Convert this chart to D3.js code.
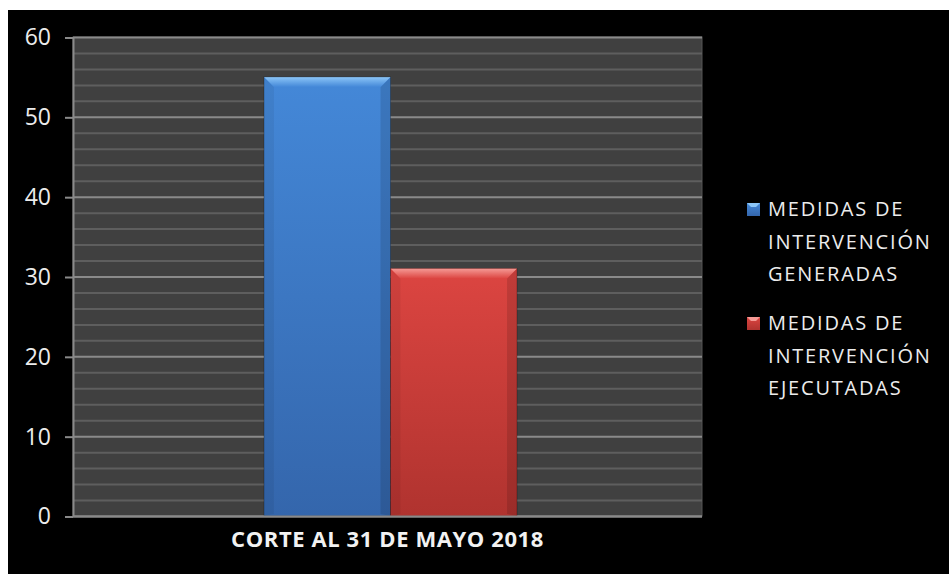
<!DOCTYPE html>
<html>
<head>
<meta charset="utf-8">
<script src="https://cdn.jsdelivr.net/npm/d3@7"></script>
<style>
  html, body { margin: 0; padding: 0; background: #fff; }
  svg { display: block; }
</style>
</head>
<body>
<svg id="chart" width="949" height="574"></svg>
<script>
// ---- data ----
const categories = ["CORTE AL 31 DE MAYO 2018"];
const seriesNames = [
  ["MEDIDAS DE", "INTERVENCIÓN", "GENERADAS"],
  ["MEDIDAS DE", "INTERVENCIÓN", "EJECUTADAS"]
];
const generadas = [55];
const ejecutadas = [31];
const yTicks = [0, 10, 20, 30, 40, 50, 60];
const yMinorTicks = d3.range(0, 61, 2);

const series = [
  { key: "gen", values: generadas, light: "#8cc6f8", top: "#4488d8", bottom: "#3466ac" },
  { key: "eje", values: ejecutadas, light: "#f59a95", top: "#dc4541", bottom: "#b0332f" }
];

const svg = d3.select("#chart");
const W = 949, H = 574;

// page background: white margins, black chart area
svg.append("rect").attr("x", 0).attr("y", 0).attr("width", W).attr("height", H).attr("fill", "#fff");
svg.append("rect").attr("x", 8).attr("y", 10).attr("width", W - 8).attr("height", H - 10).attr("fill", "#000");

const plot = { left: 73, right: 702, top: 37, bottom: 516 };

const y = d3.scaleLinear().domain([0, 60]).range([plot.bottom, plot.top]);
const x0 = d3.scaleBand().domain(categories).range([plot.left, plot.right])
  .paddingInner(0).paddingOuter(0.743).align(0.508);
const x1 = d3.scaleBand().domain(series.map(s => s.key)).range([0, x0.bandwidth()]).padding(0);

// plot background
svg.append("rect")
  .attr("x", plot.left).attr("y", plot.top)
  .attr("width", plot.right - plot.left).attr("height", plot.bottom - plot.top)
  .attr("fill", "#404040")
  .attr("stroke", "#555").attr("stroke-width", 1);

// minor gridlines
svg.append("g").selectAll("line").data(yMinorTicks.filter(v => v % 10 !== 0)).join("line")
  .attr("x1", plot.left).attr("x2", plot.right)
  .attr("y1", d => y(d) + 0.5).attr("y2", d => y(d) + 0.5)
  .attr("stroke", "#5e5e5e").attr("stroke-width", 2);

// major gridlines
svg.append("g").selectAll("line").data(yTicks).join("line")
  .attr("x1", plot.left).attr("x2", plot.right)
  .attr("y1", d => y(d) + 0.5).attr("y2", d => y(d) + 0.5)
  .attr("stroke", "#8a8a8a").attr("stroke-width", 2);

// defs: gradients
const defs = svg.append("defs");
series.forEach(s => {
  const g = defs.append("linearGradient").attr("id", "grad-" + s.key)
    .attr("x1", 0).attr("y1", 0).attr("x2", 0).attr("y2", 1);
  g.append("stop").attr("offset", "0%").attr("stop-color", s.top);
  g.append("stop").attr("offset", "100%").attr("stop-color", s.bottom);
  const t = defs.append("linearGradient").attr("id", "top-" + s.key)
    .attr("x1", 0).attr("y1", 0).attr("x2", 0).attr("y2", 1);
  t.append("stop").attr("offset", "0%").attr("stop-color", s.light);
  t.append("stop").attr("offset", "100%").attr("stop-color", s.top);
});

// bars with bevel
const bev = 10;
const barsG = svg.append("g");
categories.forEach((cat, ci) => {
  series.forEach(s => {
    const bx0 = x0(cat) + x1(s.key);
    const bx1 = bx0 + x1.bandwidth();
    const by0 = y(s.values[ci]);
    const by1 = y(0);
    const g = barsG.append("g");
    g.append("rect").attr("x", bx0).attr("y", by0).attr("width", bx1 - bx0).attr("height", by1 - by0)
      .attr("fill", `url(#grad-${s.key})`);
    // left side strip
    g.append("polygon")
      .attr("points", [[bx0, by0], [bx0 + bev, by0 + bev], [bx0 + bev, by1 - 2], [bx0, by1]].map(p => p.join(",")).join(" "))
      .attr("fill", "#000").attr("opacity", 0.06);
    // right side strip
    g.append("polygon")
      .attr("points", [[bx1, by0], [bx1 - bev, by0 + bev], [bx1 - bev, by1 - 2], [bx1, by1]].map(p => p.join(",")).join(" "))
      .attr("fill", "#000").attr("opacity", 0.12);
    // top bevel
    g.append("polygon")
      .attr("points", [[bx0, by0], [bx1, by0], [bx1 - bev, by0 + bev], [bx0 + bev, by0 + bev]].map(p => p.join(",")).join(" "))
      .attr("fill", `url(#top-${s.key})`);
    g.append("rect").attr("x", bx0).attr("y", by0).attr("width", bx1 - bx0).attr("height", by1 - by0)
      .attr("fill", "none").attr("stroke", "#000").attr("stroke-opacity", 0.25).attr("stroke-width", 1);
  });
});

// y axis line and ticks
svg.append("line").attr("x1", plot.left + 0.5).attr("x2", plot.left + 0.5)
  .attr("y1", plot.top).attr("y2", plot.bottom + 1).attr("stroke", "#8a8a8a").attr("stroke-width", 2);

const yAxis = d3.axisLeft(y).tickValues(yTicks).tickSize(8).tickPadding(14).tickFormat(d3.format("d"));
const yg = svg.append("g").attr("transform", `translate(${plot.left},0.5)`).call(yAxis);
yg.select(".domain").remove();
yg.selectAll(".tick line").attr("stroke", "#8a8a8a").attr("stroke-width", 2);
yg.selectAll(".tick text")
  .attr("fill", "#ececec")
  .style("font-family", "'Open Sans', sans-serif")
  .style("font-size", "23px");

// x axis baseline
svg.append("line").attr("x1", plot.left).attr("x2", plot.right)
  .attr("y1", plot.bottom + 0.5).attr("y2", plot.bottom + 0.5)
  .attr("stroke", "#8a8a8a").attr("stroke-width", 2);

// x category label
svg.append("g").selectAll("text").data(categories).join("text")
  .attr("x", d => x0(d) + x0.bandwidth() / 2 - 3)
  .attr("y", 547)
  .attr("text-anchor", "middle")
  .attr("fill", "#f2f2f2")
  .style("font-family", "'Open Sans', sans-serif")
  .style("font-weight", "bold")
  .style("font-size", "22px")
  .style("letter-spacing", "0.6px")
  .text(d => d);

// legend
const legend = svg.append("g");
const legendTop = [209, 323];
series.forEach((s, i) => {
  const gy = legendTop[i];
  legend.append("rect").attr("x", 747).attr("y", gy - 6).attr("width", 13).attr("height", 13)
    .attr("fill", `url(#grad-${s.key})`);
  legend.append("polygon")
    .attr("points", [[747, gy - 6], [760, gy - 6], [756, gy - 2], [751, gy - 2]].map(p => p.join(",")).join(" "))
    .attr("fill", s.light);
  seriesNames[i].forEach((line, li) => {
    legend.append("text")
      .attr("x", 768).attr("y", gy + li * 32.5)
      .attr("dy", "0.35em")
      .attr("fill", "#ececec")
      .style("font-family", "'Open Sans', sans-serif")
      .style("font-size", "20px")
      .style("letter-spacing", "1.8px")
      .text(line);
  });
});
</script>
</body>
</html>
